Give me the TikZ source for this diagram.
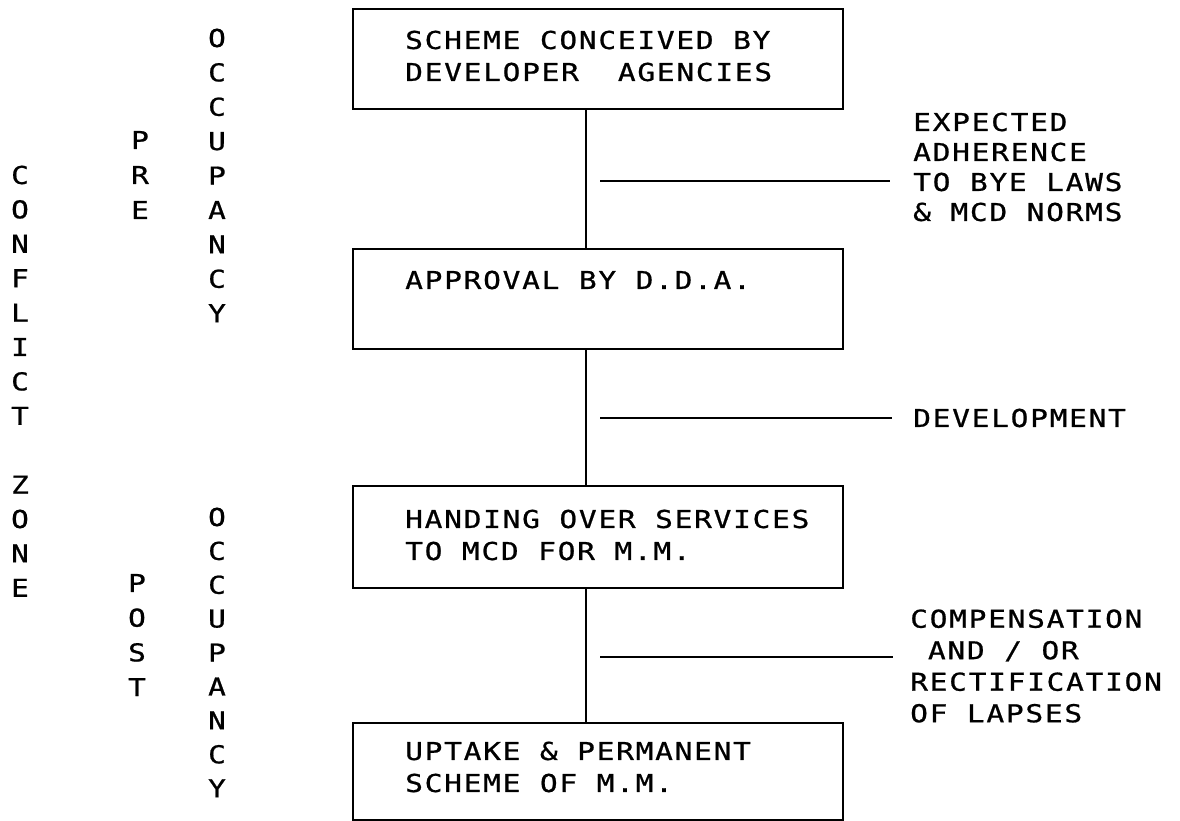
\documentclass[tikz,border=0pt]{standalone}
\usepackage{fontspec}
\newfontfamily\dotm[FakeStretch=1.2,LetterSpace=7,FakeBold=0.8]{DejaVu Sans Mono}
\tikzset{
  flowbox/.style={draw, line width=1.6pt, minimum width=490pt, minimum height=100pt, anchor=north west, inner sep=0pt},
  boxtext/.style={anchor=west, inner sep=0pt, align=left, font=\dotm\fontsize{24.6}{32}\selectfont},
  sidetext/.style={anchor=west, inner sep=0pt, align=left, font=\dotm\fontsize{24.6}{30}\selectfont},
  vlet/.style={inner sep=0pt, font=\dotm\fontsize{24.6}{30}\selectfont},
  link/.style={line width=1.6pt},
}
\begin{document}
\begin{tikzpicture}[x=1pt,y=-1pt]
\useasboundingbox (0,0) rectangle (1180,820);
% boxes
\node[flowbox] (b1) at (352,8) {};
\node[flowbox] (b2) at (352,248) {};
\node[flowbox, minimum height=102pt] (b3) at (352,485) {};
\node[flowbox, minimum height=97pt] (b4) at (352,722) {};
% box texts
\node[boxtext] (t1) at (405,56) {SCHEME CONCEIVED BY\\DEVELOPER\ \ AGENCIES};
\node[boxtext] (t2) at (405,280) {APPROVAL BY D.D.A.};
\node[boxtext] (t3) at (405,535) {HANDING OVER SERVICES\\TO MCD FOR M.M.};
\node[boxtext] (t4) at (405,767) {UPTAKE \& PERMANENT\\SCHEME OF M.M.};
% vertical connectors
\coordinate (v) at (586,0);
\draw[link] (b1.south -| v) -- (b2.north -| v);
\draw[link] (b2.south -| v) -- (b3.north -| v);
\draw[link] (b3.south -| v) -- (b4.north -| v);
% side lines and labels
\coordinate (s1a) at (600,181); \coordinate (s1b) at (890,181);
\coordinate (s2a) at (600,418); \coordinate (s2b) at (892,418);
\coordinate (s3a) at (600,657); \coordinate (s3b) at (893,657);
\draw[link] (s1a) -- (s1b);
\draw[link] (s2a) -- (s2b);
\draw[link] (s3a) -- (s3b);
\node[sidetext] (l1) at (913,167) {EXPECTED\\ADHERENCE\\TO BYE LAWS\\\& MCD NORMS};
\node[sidetext] (l2) at (913,418) {DEVELOPMENT};
\node[sidetext, font=\dotm\fontsize{24.6}{31.5}\selectfont] (l3) at (910,666) {COMPENSATION\\\phantom{C}AND / OR\\RECTIFICATION\\OF LAPSES};
% vertical letters
\foreach \ch/\k in {C/0,O/1,N/2,F/3,L/4,I/5,C/6,T/7,Z/9,O/10,N/11,E/12}
  \node[vlet] (cz\k) at (20,175+34.4*\k) {\ch};
\foreach \ch/\k in {P/0,R/1,E/2}
  \node[vlet] (pr\k) at (140,140+35*\k) {\ch};
\foreach \ch/\k in {O/0,C/1,C/2,U/3,P/4,A/5,N/6,C/7,Y/8}
  \node[vlet] (oa\k) at (217,38+34.4*\k) {\ch};
\foreach \ch/\k in {P/0,O/1,S/2,T/3}
  \node[vlet] (po\k) at (137,583+34.7*\k) {\ch};
\foreach \ch/\k in {O/0,C/1,C/2,U/3,P/4,A/5,N/6,C/7,Y/8}
  \node[vlet] (ob\k) at (217,517+33.9*\k) {\ch};
\end{tikzpicture}
\end{document}
